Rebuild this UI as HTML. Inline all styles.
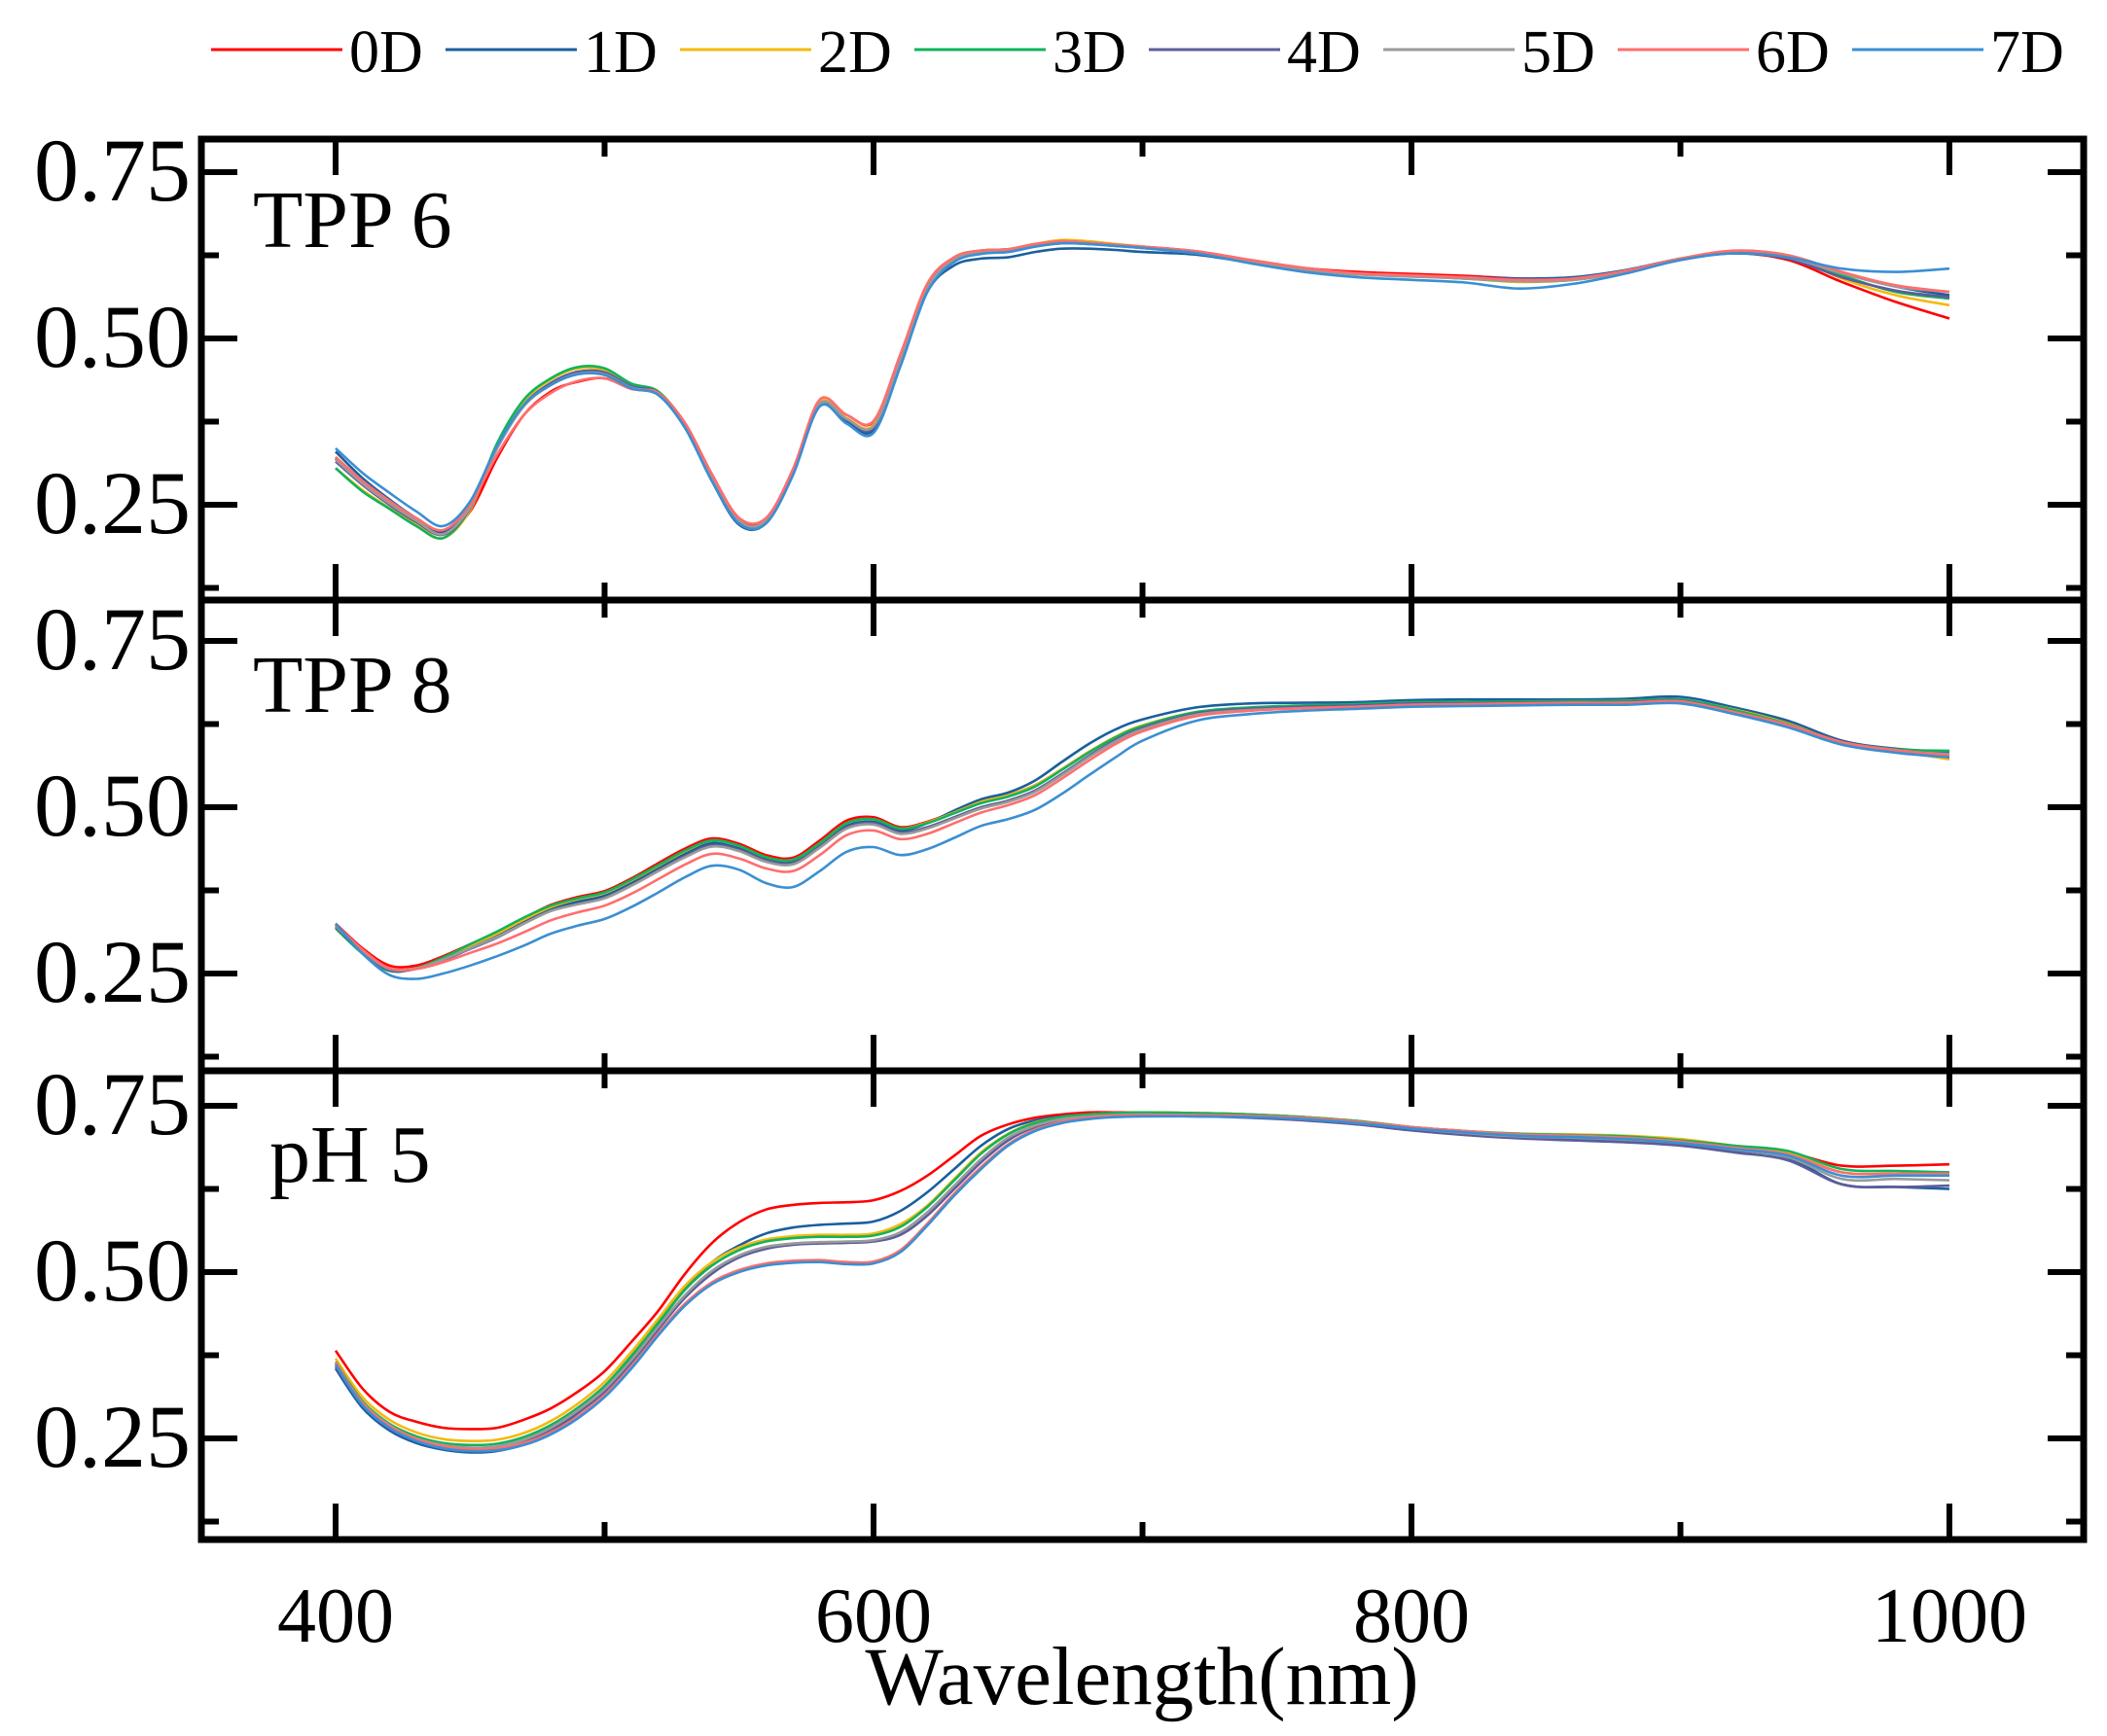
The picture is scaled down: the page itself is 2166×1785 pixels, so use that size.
<!DOCTYPE html>
<html><head><meta charset="utf-8">
<style>
html,body{margin:0;padding:0;background:#fff;}
svg{display:block;font-family:"Liberation Serif","Times New Roman",serif;}
</style></head>
<body>
<svg id="chart" width="2166" height="1785" viewBox="0 0 2166 1785" xmlns="http://www.w3.org/2000/svg">
</svg>
<script>
const wavelengths = [400,410,420,430,440,450,460,470,480,490,500,510,520,530,540,550,560,570,580,590,600,610,620,630,640,650,660,670,680,690,700,720,740,760,780,800,820,840,860,880,900,920,940,960,980,1000];
const seriesNames = ["0D","1D","2D","3D","4D","5D","6D","7D"];
const seriesColors = ["#ff0000","#1a5f9c","#f5b90f","#12b35a","#5c5c9c","#9a9a9a","#ff6e6e","#3a8fd3"];
const panelLabels = ["TPP 6","TPP 8","pH 5"];
const yTickValues = [0.25,0.5,0.75];
const yTickLabels = ["0.25","0.50","0.75"];
const xTickValues = [400,600,800,1000];
const xTickLabels = ["400","600","800","1000"];

const tpp6_0D=[.320,.282,.252,.225,.207,.240,.320,.385,.420,.435,.440,.425,.418,.372,.295,.230,.228,.302,.405,.385,.375,.475,.582,.622,.632,.634,.642,.646,.644,.641,.638,.631,.618,.606,.600,.597,.594,.590,.590,.600,.618,.628,.618,.585,.555,.530];
const tpp6_1D=[.330,.290,.258,.230,.210,.250,.335,.400,.430,.448,.446,.425,.415,.365,.285,.220,.222,.296,.398,.375,.362,.460,.570,.610,.620,.622,.630,.635,.635,.633,.630,.626,.614,.603,.597,.594,.592,.590,.592,.603,.620,.630,.625,.600,.578,.565];
const tpp6_2D=[.305,.272,.245,.220,.200,.242,.338,.405,.438,.455,.452,.430,.420,.370,.290,.225,.226,.300,.405,.380,.370,.470,.580,.622,.632,.634,.642,.648,.646,.642,.638,.630,.616,.604,.597,.594,.590,.585,.588,.600,.620,.630,.625,.590,.565,.550];
const tpp6_3D=[.305,.270,.244,.218,.200,.245,.342,.408,.440,.457,.455,.432,.420,.370,.288,.224,.224,.298,.402,.378,.366,.468,.580,.622,.632,.634,.641,.646,.644,.641,.637,.630,.616,.604,.597,.594,.590,.586,.588,.601,.620,.630,.624,.595,.570,.560];
const tpp6_4D=[.315,.280,.250,.224,.205,.245,.335,.400,.433,.450,.449,.428,.418,.368,.288,.224,.225,.298,.402,.378,.366,.468,.578,.618,.628,.630,.638,.643,.642,.640,.636,.629,.616,.604,.597,.594,.592,.589,.590,.602,.619,.628,.620,.592,.572,.562];
const tpp6_5D=[.318,.282,.252,.226,.206,.246,.334,.398,.430,.447,.446,.426,.416,.368,.288,.225,.226,.299,.402,.379,.368,.468,.578,.619,.629,.631,.639,.644,.642,.639,.636,.628,.615,.603,.596,.593,.590,.586,.588,.600,.620,.630,.622,.598,.578,.570];
const tpp6_6D=[.322,.286,.256,.230,.212,.250,.325,.385,.418,.436,.440,.424,.418,.372,.295,.230,.230,.303,.408,.385,.376,.476,.582,.622,.632,.634,.642,.646,.644,.641,.638,.631,.618,.606,.598,.595,.592,.588,.590,.602,.620,.632,.625,.600,.580,.570];
const tpp6_7D=[.335,.298,.268,.240,.218,.255,.338,.400,.430,.446,.445,.425,.415,.365,.285,.222,.222,.294,.398,.372,.358,.458,.570,.615,.627,.630,.638,.643,.642,.639,.636,.628,.613,.600,.592,.588,.584,.575,.582,.598,.618,.628,.622,.605,.600,.605];

const tpp8_0D=[.325,.288,.262,.262,.276,.294,.311,.333,.353,.365,.374,.393,.416,.438,.453,.445,.428,.424,.450,.480,.485,.470,.478,.493,.508,.518,.533,.557,.583,.605,.622,.642,.648,.651,.653,.656,.657,.658,.659,.659,.660,.645,.628,.600,.585,.575];
const tpp8_1D=[.322,.284,.256,.258,.272,.290,.308,.328,.347,.358,.367,.386,.408,.430,.446,.438,.422,.418,.443,.472,.478,.465,.476,.495,.512,.522,.540,.568,.595,.617,.632,.650,.656,.657,.658,.661,.662,.662,.662,.663,.666,.650,.630,.600,.588,.583];
const tpp8_2D=[.320,.282,.255,.258,.273,.292,.310,.331,.350,.362,.371,.390,.412,.434,.450,.442,.425,.421,.446,.476,.482,.468,.477,.492,.508,.518,.533,.557,.583,.606,.623,.643,.649,.652,.654,.657,.657,.658,.659,.660,.661,.647,.626,.597,.585,.572];
const tpp8_3D=[.318,.280,.254,.258,.274,.294,.313,.334,.352,.363,.372,.391,.413,.435,.450,.442,.425,.421,.446,.476,.482,.468,.476,.491,.506,.516,.531,.556,.582,.605,.622,.643,.650,.653,.655,.658,.658,.659,.660,.660,.662,.646,.625,.598,.587,.585];
const tpp8_4D=[.320,.282,.255,.257,.270,.287,.304,.325,.344,.355,.364,.383,.405,.427,.443,.436,.420,.416,.441,.470,.476,.462,.470,.485,.500,.510,.525,.550,.577,.601,.619,.641,.648,.651,.653,.656,.656,.657,.658,.658,.660,.643,.622,.596,.584,.578];
const tpp8_5D=[.322,.284,.257,.258,.271,.288,.305,.325,.344,.354,.363,.382,.404,.425,.441,.434,.418,.414,.439,.468,.474,.460,.468,.483,.498,.508,.523,.548,.575,.599,.617,.639,.646,.649,.651,.654,.655,.656,.657,.657,.659,.642,.622,.597,.585,.580];
const tpp8_6D=[.324,.286,.258,.257,.267,.281,.295,.312,.330,.342,.352,.370,.392,.414,.430,.423,.408,.404,.428,.458,.465,.452,.460,.476,.492,.503,.518,.543,.570,.595,.614,.637,.645,.649,.651,.654,.655,.656,.657,.657,.659,.643,.624,.598,.586,.578];
const tpp8_7D=[.325,.280,.248,.242,.250,.262,.276,.292,.310,.322,.332,.350,.372,.395,.412,.406,.386,.380,.404,.433,.440,.428,.437,.454,.472,.482,.496,.520,.548,.575,.600,.630,.640,.645,.648,.651,.652,.653,.654,.654,.656,.640,.620,.594,.582,.575];

const ph5_0D=[.382,.325,.290,.275,.266,.264,.266,.278,.295,.320,.351,.395,.442,.498,.544,.575,.594,.601,.604,.605,.608,.622,.645,.675,.705,.722,.732,.737,.740,.740,.740,.739,.737,.733,.727,.718,.712,.707,.705,.702,.697,.687,.680,.660,.660,.662];
const ph5_1D=[.355,.296,.262,.243,.233,.229,.231,.241,.260,.288,.325,.372,.423,.475,.515,.540,.558,.567,.571,.573,.576,.592,.620,.655,.690,.715,.728,.734,.737,.738,.738,.736,.734,.730,.724,.715,.708,.703,.700,.697,.692,.683,.672,.632,.628,.625];
const ph5_2D=[.370,.312,.278,.259,.249,.246,.248,.258,.276,.302,.335,.380,.430,.480,.515,.537,.549,.554,.556,.556,.558,.572,.600,.640,.680,.708,.725,.733,.737,.739,.740,.739,.737,.733,.727,.718,.712,.708,.707,.705,.700,.690,.680,.650,.648,.645];
const ph5_3D=[.365,.306,.272,.253,.243,.240,.242,.252,.270,.296,.329,.374,.424,.474,.510,.533,.546,.551,.553,.553,.555,.568,.598,.638,.678,.707,.724,.733,.737,.739,.740,.739,.737,.733,.727,.718,.712,.708,.706,.704,.698,.690,.682,.655,.652,.650];
const ph5_4D=[.358,.300,.265,.246,.236,.233,.234,.244,.262,.288,.320,.364,.414,.462,.498,.522,.535,.541,.543,.544,.546,.556,.585,.625,.665,.698,.718,.728,.732,.734,.735,.734,.732,.728,.722,.713,.706,.701,.698,.695,.690,.680,.668,.632,.628,.630];
const ph5_5D=[.362,.304,.270,.250,.240,.236,.238,.248,.266,.292,.324,.368,.418,.466,.502,.525,.538,.543,.545,.546,.548,.560,.590,.630,.670,.702,.720,.730,.734,.736,.737,.736,.734,.730,.724,.716,.709,.704,.702,.699,.694,.684,.673,.640,.640,.638];
const ph5_6D=[.364,.303,.269,.249,.238,.234,.235,.243,.259,.283,.315,.358,.408,.453,.485,.503,.513,.517,.518,.515,.516,.533,.573,.618,.658,.692,.714,.726,.732,.735,.736,.736,.735,.732,.726,.718,.712,.707,.705,.702,.696,.687,.677,.650,.648,.648];
const ph5_7D=[.361,.300,.266,.246,.235,.231,.232,.240,.256,.280,.312,.355,.405,.450,.482,.500,.510,.514,.515,.512,.513,.530,.570,.615,.655,.690,.712,.724,.730,.733,.734,.734,.733,.730,.724,.716,.710,.705,.703,.700,.694,.685,.675,.645,.645,.645];

const panelSeries = [
  [tpp6_0D,tpp6_1D,tpp6_2D,tpp6_3D,tpp6_4D,tpp6_5D,tpp6_6D,tpp6_7D],
  [tpp8_0D,tpp8_1D,tpp8_2D,tpp8_3D,tpp8_4D,tpp8_5D,tpp8_6D,tpp8_7D],
  [ph5_0D,ph5_1D,ph5_2D,ph5_3D,ph5_4D,ph5_5D,ph5_6D,ph5_7D]
];

const NS="http://www.w3.org/2000/svg";
const svg=document.getElementById('chart');
function mk(tag,attrs,parent){const e=document.createElementNS(NS,tag);for(const k in attrs)e.setAttribute(k,attrs[k]);(parent||svg).appendChild(e);return e;}

const plotL=207, plotR=2142;
const panelTop=[143,617,1101];
const panelBot=[617,1101,1583];
const y075=[177,659,1137];
const pxPerUnit=684;
function xScale(w){return 345+(w-400)*(2004-345)/600;}
function yScale(p,v){return y075[p]+(0.75-v)*pxPerUnit;}

// smooth path through points (Catmull-Rom)
function smoothPath(pts){
  let d='M'+pts[0][0].toFixed(1)+','+pts[0][1].toFixed(1);
  for(let i=0;i<pts.length-1;i++){
    const p0=pts[i-1]||pts[i],p1=pts[i],p2=pts[i+1],p3=pts[i+2]||p2;
    const c1x=p1[0]+(p2[0]-p0[0])/6,c1y=p1[1]+(p2[1]-p0[1])/6;
    const c2x=p2[0]-(p3[0]-p1[0])/6,c2y=p2[1]-(p3[1]-p1[1])/6;
    d+='C'+c1x.toFixed(1)+','+c1y.toFixed(1)+' '+c2x.toFixed(1)+','+c2y.toFixed(1)+' '+p2[0].toFixed(1)+','+p2[1].toFixed(1);
  }
  return d;
}

for(let p=0;p<3;p++){
  const g=mk('g',{});
  
  
  panelSeries[p].forEach((vals,si)=>{
    const pts=vals.map((v,i)=>[xScale(wavelengths[i]),yScale(p,v)]);
    const path=mk('path',{d:smoothPath(pts),fill:'none',stroke:seriesColors[si],'stroke-width':2.6,'stroke-linejoin':'round'},g);
    
    
  });
}

for(let p=0;p<3;p++){
  const g=mk('g',{});
  
  
  const t=panelTop[p], b=panelBot[p];
  const fr=mk('rect',{x:plotL,y:t,width:plotR-plotL,height:b-t,fill:'none',stroke:'#000','stroke-width':7},g);
  
  
  for(let v=0.125; v<0.8; v+=0.125){
    const y=yScale(p,v); if(y<t+4||y>b-4) continue;
    const major=Math.abs((v*4)-Math.round(v*4))<1e-6;
    const len=major?37:18;
    mk('line',{x1:plotL,x2:plotL+len,y1:y,y2:y,stroke:'#000','stroke-width':6},g);
    mk('line',{x1:plotR,x2:plotR-len,y1:y,y2:y,stroke:'#000','stroke-width':6},g);
  }
  yTickValues.forEach((v,i)=>{
    const tx=mk('text',{x:196,y:yScale(p,v)+29,'text-anchor':'end','font-size':92,fill:'#000'},g);
    tx.textContent=yTickLabels[i];
    
    
  });
  for(let w=400; w<=1000; w+=100){
    const x=xScale(w); const major=(w%200===0); const len=major?37:18;
    mk('line',{x1:x,x2:x,y1:b,y2:b-len,stroke:'#000','stroke-width':6},g);
    mk('line',{x1:x,x2:x,y1:t,y2:t+len,stroke:'#000','stroke-width':6},g);
  }
  const lbl=mk('text',{x:p===2?277:260,y:[254,732,1215][p],'font-size':84,fill:'#000'},g);
  lbl.textContent=panelLabels[p];
  
  
}

xTickValues.forEach((w,i)=>{
  const tx=mk('text',{x:xScale(w),y:1688,'text-anchor':'middle','font-size':80,fill:'#000'});
  tx.textContent=xTickLabels[i];
  
  
});
const xt=mk('text',{x:1174,y:1752,'text-anchor':'middle','font-size':85,fill:'#000'});
xt.textContent='Wavelength(nm)';



const lg=mk('g',{});


seriesNames.forEach((n,i)=>{
  const x0=217+i*241;
  const eg=mk('g',{},lg);
  
  
  mk('line',{x1:x0,x2:x0+135,y1:51,y2:51,stroke:seriesColors[i],'stroke-width':3},eg);
  const tx=mk('text',{x:x0+142,y:74,'font-size':62,fill:'#000'},eg);
  tx.textContent=n;
});
</script>
</body></html>
